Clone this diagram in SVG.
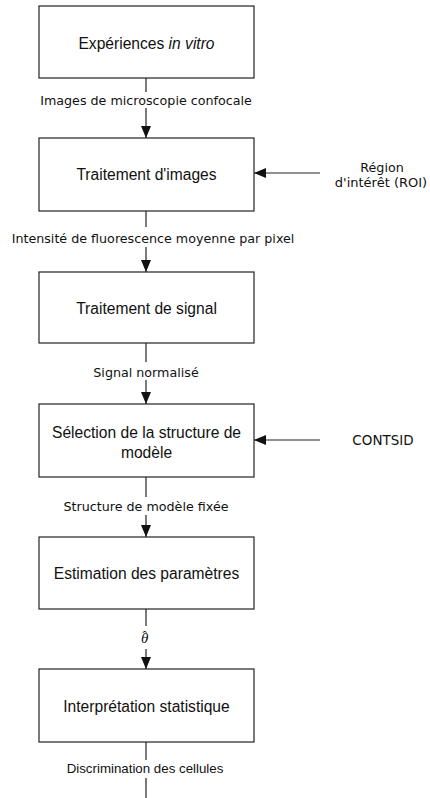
<svg xmlns="http://www.w3.org/2000/svg" width="430" height="798" viewBox="0 0 430 798">
<style>
.box{fill:#fff;stroke:#222;stroke-width:1.2}
.bt{font-family:"Liberation Sans",Arial,sans-serif;font-size:15.6px;fill:#111;text-anchor:middle}
.lt{font-family:"DejaVu Sans",sans-serif;font-size:12.7px;fill:#111;text-anchor:middle}
.ls{font-family:"Liberation Sans",Arial,sans-serif;font-size:13.3px;fill:#111;text-anchor:middle}
.th{font-family:"Liberation Serif",serif;font-style:italic;font-size:15px;fill:#111}
.c{stroke:#222;stroke-width:1.2;fill:none}
</style>
<defs>
<marker id="ah" markerWidth="12" markerHeight="10" refX="12" refY="5" orient="auto" markerUnits="userSpaceOnUse"><path d="M0,0 L12,5 L0,10 z" fill="#111"/></marker>
</defs>
<rect width="430" height="798" fill="#fff"/>
<g id="connectors">
<line class="c" x1="146" y1="78" x2="146" y2="92"/>
<line class="c" x1="146" y1="108" x2="146" y2="138" marker-end="url(#ah)"/>
<line class="c" x1="146" y1="211" x2="146" y2="227"/>
<line class="c" x1="146" y1="247" x2="146" y2="272" marker-end="url(#ah)"/>
<line class="c" x1="146" y1="343" x2="146" y2="362"/>
<line class="c" x1="146" y1="380" x2="146" y2="404" marker-end="url(#ah)"/>
<line class="c" x1="146" y1="477" x2="146" y2="497"/>
<line class="c" x1="146" y1="515" x2="146" y2="537" marker-end="url(#ah)"/>
<line class="c" x1="146" y1="609" x2="146" y2="626"/>
<line class="c" x1="146" y1="649" x2="146" y2="669" marker-end="url(#ah)"/>
<line class="c" x1="146" y1="742" x2="146" y2="760"/>
<line class="c" x1="146" y1="778" x2="146" y2="798"/>
<line class="c" x1="320" y1="173" x2="254" y2="173" marker-end="url(#ah)"/>
<line class="c" x1="320" y1="440" x2="254" y2="440" marker-end="url(#ah)"/>
<text class="lt" x="146" y="104.5">Images de microscopie confocale</text>
<text class="lt" x="153" y="242.5">Intensité de fluorescence moyenne par pixel</text>
<text class="lt" x="146" y="376.5">Signal normalisé</text>
<text class="lt" x="146" y="511">Structure de modèle fixée</text>
<text class="th" x="141" y="643">θ<tspan dx="-6" dy="-3" style="font-style:normal;font-size:13px">ˆ</tspan></text>
<text class="ls" x="145" y="773">Discrimination des cellules</text>
</g>
<g id="n1"><rect class="box" x="39" y="6" width="215" height="72"/><text class="bt" x="146.5" y="48.5">Expériences <tspan font-style="italic">in vitro</tspan></text></g>
<g id="n2"><rect class="box" x="39" y="138" width="215" height="73"/><text class="bt" x="146.5" y="179.5">Traitement d'images</text></g>
<g id="n3"><rect class="box" x="39" y="272" width="215" height="71"/><text class="bt" x="146.5" y="313.5">Traitement de signal</text></g>
<g id="n4"><rect class="box" x="39" y="404" width="215" height="73"/><text class="bt" x="146.5" y="437.5">Sélection de la structure de</text><text class="bt" x="146.5" y="457.5">modèle</text></g>
<g id="n5"><rect class="box" x="39" y="537" width="215" height="72"/><text class="bt" x="146.5" y="578.5">Estimation des paramètres</text></g>
<g id="n6"><rect class="box" x="39" y="669" width="215" height="73"/><text class="bt" x="146.5" y="711.5">Interprétation statistique</text></g>
<g id="roi"><text class="lt" x="382" y="172">Région</text><text class="lt" x="381" y="187" style="font-size:13px">d'intérêt (ROI)</text></g>
<g id="contsid"><text class="lt" x="383" y="445" style="font-size:13.5px">CONTSID</text></g>
</svg>
